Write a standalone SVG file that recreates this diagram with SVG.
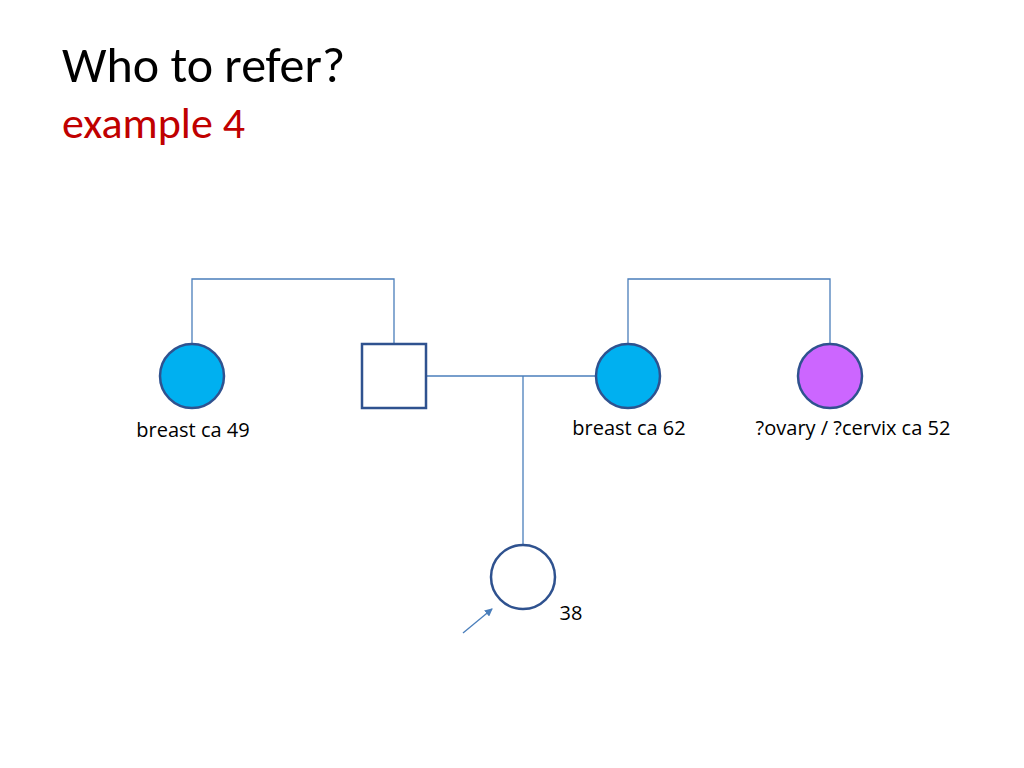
<svg xmlns="http://www.w3.org/2000/svg" width="1024" height="768" viewBox="0 0 1024 768">
<defs>
<style>
.t{font-family:"Open Sans","Liberation Sans",sans-serif;font-size:20px;fill:#000}
.ln{stroke:#4a7ebb;stroke-width:1.3;fill:none}
.nd{stroke:#2f528f;stroke-width:2.5}
</style>
<marker id="a" markerWidth="8" markerHeight="8" refX="7" refY="4" orient="auto" markerUnits="userSpaceOnUse"><path d="M0,0 L8,4 L0,8 z" fill="#4a7ebb"/></marker>
</defs>
<rect width="1024" height="768" fill="#fff"/>
<text x="62" y="82" style="font-family:Calibri,'Carlito','Liberation Sans',sans-serif;font-size:50px">Who to refer?</text>
<text x="62" y="138" style="font-family:Calibri,'Carlito','Liberation Sans',sans-serif;font-size:44px;fill:#c00000">example 4</text>
<g id="connectors">
<path class="ln" d="M192,343 V279 H394 V343"/>
<path class="ln" d="M628,343 V279 H830 V343"/>
<path class="ln" d="M427,376 H596"/>
<path class="ln" d="M523,376 V545"/>
<path class="ln" d="M463,633 L492,609" marker-end="url(#a)"/>
</g>
<g id="n1"><circle class="nd" cx="192" cy="376" r="32" fill="#00b0f0"/><text class="t" x="193" y="437" text-anchor="middle">breast ca 49</text></g>
<g id="n2"><rect class="nd" x="362" y="344" width="64" height="64" fill="#fff"/></g>
<g id="n3"><circle class="nd" cx="628" cy="376" r="32" fill="#00b0f0"/><text class="t" x="629" y="435" text-anchor="middle">breast ca 62</text></g>
<g id="n4"><circle class="nd" cx="830" cy="376" r="32" fill="#cc66ff"/><text class="t" x="853" y="435" text-anchor="middle">?ovary / ?cervix ca 52</text></g>
<g id="n5"><circle class="nd" cx="523" cy="577" r="32" fill="#fff"/><text class="t" x="571" y="620" text-anchor="middle">38</text></g>
</svg>
